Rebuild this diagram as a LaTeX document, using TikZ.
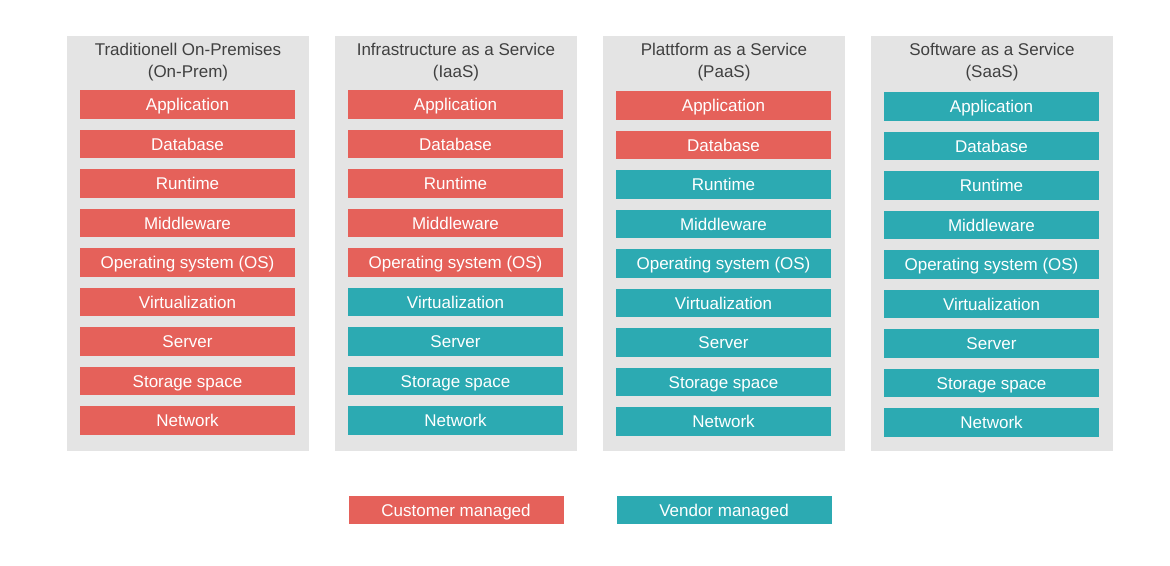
\documentclass[tikz,border=0pt]{standalone}
\usepackage{fontspec}
\setmainfont{Liberation Sans}
\usepackage{tikz}
\definecolor{CloudCustomerColor}{RGB}{229,97,90}
\definecolor{CloudVendorColor}{RGB}{44,170,178}
\definecolor{CloudPanelColor}{RGB}{228,228,228}
\definecolor{CloudTitleColor}{RGB}{64,64,64}

\begin{document}
\begin{tikzpicture}[x=1pt,y=-1pt,panel/.style={fill=CloudPanelColor,minimum width=242pt,minimum height=415pt,inner sep=0pt,rectangle},layer/.style={fill=#1,text=white,minimum width=215pt,minimum height=28.5pt,inner sep=0pt,text height=12.2pt,text depth=0pt,rectangle,font=\fontsize{17}{20}\selectfont},ttl/.style={text=CloudTitleColor,align=center,inner sep=0pt,font=\fontsize{17}{22}\selectfont}]
\useasboundingbox (0,0) rectangle (1170,565);
\foreach \c/\n/\o/\t in %
{0/9/0/{Traditionell On-Premises\\(On-Prem)},1/5/0/{Infrastructure as a Service\\(IaaS)},2/2/1/{Plattform as a Service\\(PaaS)},3/0/2/{Software as a Service\\(SaaS)}} {
   \node[panel](p\c) at (188+268*\c,243.5) {};
   \node[ttl](t\c) at (188+268*\c,62.5) {\t};
   \foreach \r/\1 in %
   {0/Application,1/Database,2/Runtime,3/Middleware,4/Operating system (OS),5/Virtualization,6/Server,7/Storage space,8/Network} {
      \ifnum\r<\n\def\fc{CloudCustomerColor}\else\def\fc{CloudVendorColor}\fi
      \node[layer=\fc](l\c\r) at (187.5+268*\c,104.5+39.5*\r+\o) {\1};
   }
}
   \node[layer=CloudCustomerColor](customer) at (456,510) {Customer managed};
   \node[layer=CloudVendorColor](vendor) at (724,510) {Vendor managed};
\end{tikzpicture}
\end{document}
